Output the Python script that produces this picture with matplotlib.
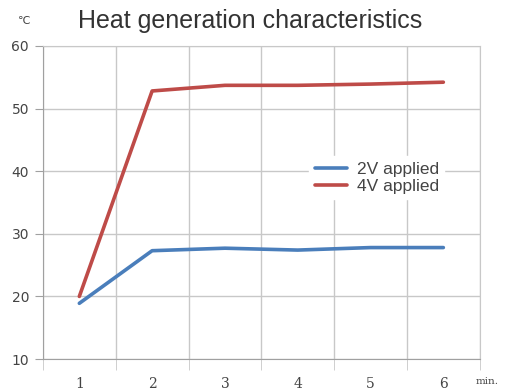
import matplotlib.pyplot as plt
from matplotlib.ticker import FixedLocator

# readings (minutes, deg C)
minutes = [1, 2, 3, 4, 5, 6]
temp_2v = [18.9, 27.3, 27.7, 27.4, 27.8, 27.8]
temp_4v = [20.0, 52.8, 53.7, 53.7, 53.9, 54.2]
y_ticks = [10, 20, 30, 40, 50, 60]
series_labels = ['2V applied', '4V applied']

fig = plt.figure(figsize=(5.05, 3.92), dpi=100)
ax = fig.add_axes([0.085, 0.084, 0.865, 0.799])

ax.plot(minutes, temp_2v, color='#4a7ebb', lw=2.6, label=series_labels[0],
        solid_capstyle='round', zorder=3)
ax.plot(minutes, temp_4v, color='#be4b48', lw=2.6, label=series_labels[1],
        solid_capstyle='round', zorder=3)

ax.set_xlim(0.5, 6.5)
ax.set_ylim(10, 60)
ax.set_yticks(y_ticks)
ax.set_xticks(minutes)
ax.xaxis.set_minor_locator(FixedLocator([m + 0.5 for m in range(0, 7)]))

# grid on the category borders, like the spreadsheet chart
ax.grid(False)
ax.grid(True, axis='y', color='#c8c8c8', lw=1)
ax.grid(True, axis='x', which='minor', color='#c8c8c8', lw=1)
for s in ax.spines.values():
    s.set_color('#c8c8c8')
ax.spines['left'].set_color('#a0a0a0')
ax.spines['bottom'].set_color('#a0a0a0')

ax.tick_params(axis='x', which='major', length=0, pad=13, labelsize=10,
               labelcolor='#444444')
ax.tick_params(axis='x', which='minor', length=8, color='#c8c8c8')
ax.tick_params(axis='y', length=6, color='#a0a0a0', pad=4, labelsize=10,
               labelcolor='#444444')
for t in ax.get_xticklabels():
    t.set_fontfamily('DejaVu Serif')

leg = ax.legend(loc='upper left', bbox_to_anchor=(0.59, 0.675), frameon=True,
                fancybox=False, edgecolor='white', facecolor='white',
                framealpha=1, fontsize=12.5, handlelength=1.85,
                handletextpad=0.6, labelspacing=0.1, borderpad=0.3)
for t in leg.get_texts():
    t.set_color('#444444')
    t.set_fontfamily('Liberation Sans')

fig.text(250 / 505, 1 - 21 / 392, 'Heat generation characteristics',
         ha='center', va='center', fontsize=18, family='Liberation Sans',
         color='#333333')
fig.text(24 / 505, 1 - 21 / 392, '℃', ha='center', va='center', fontsize=8,
         color='#444444')
fig.text(487 / 505, 1 - 382 / 392, 'min.', ha='center', va='center',
         fontsize=7.5, family='DejaVu Serif', color='#444444')

fig.savefig('out.png', dpi=100)
